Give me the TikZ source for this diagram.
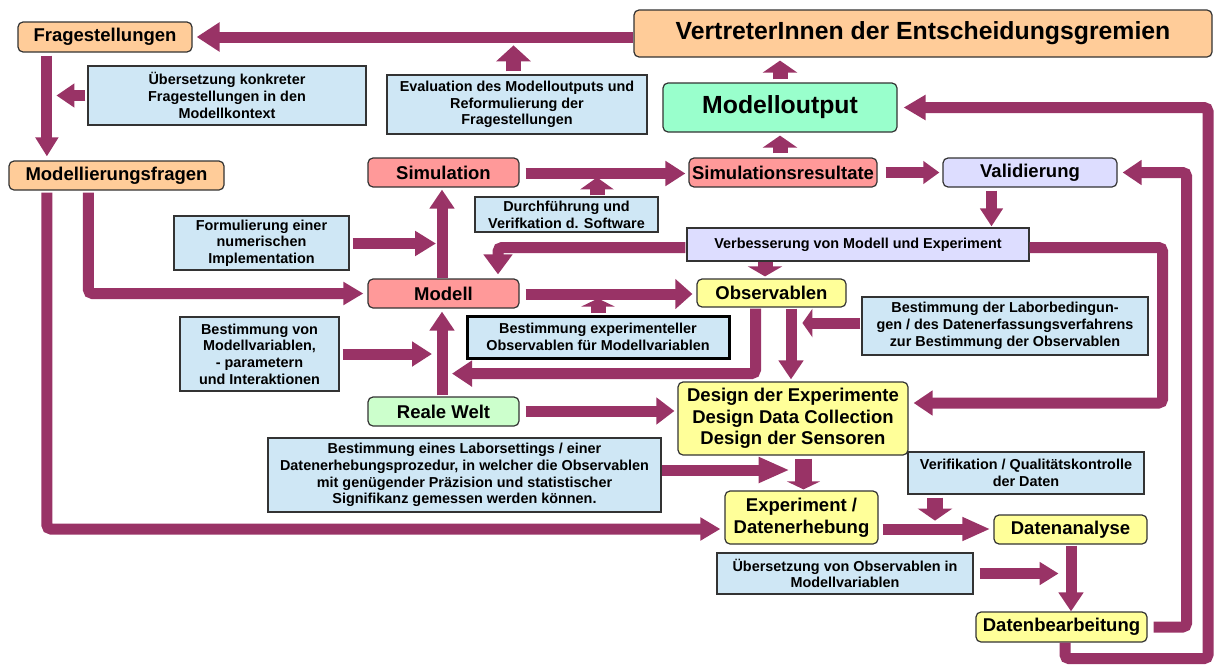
\documentclass[tikz,border=0pt]{standalone}
\usepackage{fontspec}
\setmainfont{Liberation Sans}
\usetikzlibrary{arrows.meta,calc}

\definecolor{flowc}{RGB}{153,51,102}
\definecolor{orangebox}{RGB}{255,204,153}
\definecolor{bluebox}{RGB}{207,231,245}
\definecolor{redbox}{RGB}{255,153,153}
\definecolor{greenbox}{RGB}{204,255,204}
\definecolor{mintbox}{RGB}{153,255,204}
\definecolor{yellowbox}{RGB}{255,255,153}
\definecolor{lilacbox}{RGB}{221,221,255}
\definecolor{edgec}{RGB}{51,51,51}

\tikzset{
  box/.style={draw=edgec, line width=1.2pt, inner sep=0pt, align=center,
    font=\bfseries\fontsize{18.5}{21.5}\selectfont},
  rbox/.style={box, rounded corners=5pt},
  bigtext/.style={font=\bfseries\fontsize{24.8}{28}\selectfont},
  note/.style={box, fill=bluebox, font=\bfseries\fontsize{14.4}{16.7}\selectfont},
  sz/.style 2 args={minimum width=#1pt, minimum height=#2pt},
  tip/.style 2 args={-{Triangle[width=#1pt,length=#2pt]}},
  flow/.style={draw=flowc, line width=11pt, rounded corners=4pt, tip={24}{19}},
  fat/.style={draw=flowc, line width=15pt, tip={34}{12}},
}

\begin{document}
\begin{tikzpicture}[x=1pt, y=-1pt]
\useasboundingbox (0,0) rectangle (1215,664);

% ---------- boxes ----------
\node[rbox, fill=orangebox, sz={174}{30}] (frage) at (105,37) {Fragestellungen};
\node[rbox, fill=orangebox, sz={578}{47}, bigtext] (vertreter) at (923,33.5) {VertreterInnen der Entscheidungsgremien};
\node[rbox, fill=orangebox, sz={215}{29}] (modfrag) at (116.5,175.5) {Modellierungsfragen};
\node[note, sz={278}{59}] (uebkonk) at (227,95.5) {Übersetzung konkreter\\Fragestellungen in den\\Modellkontext};
\node[note, sz={260}{59}] (eval) at (517,104.5) {Evaluation des Modelloutputs und\\Reformulierung der\\Fragestellungen};
\node[rbox, fill=mintbox, sz={234}{49}, bigtext] (output) at (780,107.5) {Modelloutput};
\node[rbox, fill=redbox, sz={151}{29}] (simul) at (443.5,172.5) {Simulation};
\node[rbox, fill=redbox, sz={188}{29}] (simres) at (783,172.5) {Simulationsresultate};
\node[rbox, fill=lilacbox, sz={174}{29}] (valid) at (1030,172.5) {Validierung};
\node[note, sz={183}{35}] (durch) at (566.5,214.5) {Durchführung und\\Verifkation d. Software};
\node[note, sz={175}{54}] (formul) at (261.5,243) {Formulierung einer\\numerischen\\Implementation};
\node[note, fill=lilacbox, sz={342}{33}] (verbes) at (858,244.5) {Verbesserung von Modell und Experiment};
\node[rbox, fill=redbox, sz={151}{29}] (modell) at (443.5,293.5) {Modell};
\node[rbox, fill=yellowbox, sz={149}{28}] (observ) at (771.5,293) {Observablen};
\node[note, sz={159}{74}] (bestvar) at (259.5,354) {Bestimmung von\\Modellvariablen,\\- parametern\\und Interaktionen};
\node[note, draw=black, line width=3pt, sz={262}{42}] (bestexp) at (598,337) {Bestimmung experimenteller\\Observablen für Modellvariablen};
\node[note, sz={286}{58}] (labor) at (1005,326) {Bestimmung der Laborbedingun-\\gen / des Datenerfassungsverfahrens\\zur Bestimmung der Observablen};
\node[rbox, fill=greenbox, sz={151}{29}] (reale) at (443.5,411.5) {Reale Welt};
\node[rbox, fill=yellowbox, sz={230}{73}] (design) at (793,418.5) {Design der Experimente\\Design Data Collection\\Design der Sensoren};
\node[note, sz={393}{74}] (setting) at (464.5,475) {Bestimmung eines Laborsettings / einer\\Datenerhebungsprozedur, in welcher die Observablen\\mit genügender Präzision und statistischer\\Signifikanz gemessen werden können.};
\node[note, sz={236}{42}] (verif) at (1026,473) {Verifikation / Qualitätskontrolle\\der Daten};
\node[rbox, fill=yellowbox, sz={153}{53}] (experi) at (801.5,517.5) {Experiment /\\Datenerhebung};
\node[rbox, fill=yellowbox, sz={153}{29}] (analyse) at (1070.5,529.5) {Datenanalyse};
\node[note, sz={256}{41}] (uebobs) at (845,573.5) {Übersetzung von Observablen in\\Modellvariablen};
\node[rbox, fill=yellowbox, sz={171}{30}] (bearb) at (1061.5,627) {Datenbearbeitung};

% ---------- connectors ----------
% top row
\draw[flow, tip={28}{23}] (vertreter.west |- frage.east) -- ([xshift=4pt]frage.east);
\draw[flow, tip={22}{19}] ($(frage.south west)+(29.5,3)$) -- ($(modfrag.north west)+(38.5,-4)$);
\draw[flow, tip={23}{18}] ($(uebkonk.west)+(-2,0)$) -- ($(uebkonk.west)+(-31,0)$);
\draw[fat, tip={34}{16}] ($(eval.north)+(-3.5,-3)$) -- ++(0,-26);
\draw[fat] ($(output.north)+(0,-3)$) -- ($(output.north |- vertreter.south)+(0,3)$);
\draw[fat] ($(output.south |- simres.north)+(0,-4)$) -- ($(output.south)+(0,3)$);

% simulation row
\draw[flow, tip={24}{20}] ($(simul.east)+(6,1)$) -- ($(simres.west)+(-3,1)$);
\draw[fat, tip={33}{12}] ($(durch.north)+(30.5,-1)$) -- ++(0,-18);
\draw[flow, tip={22}{16}] ($(simres.east)+(8,0)$) -- ($(valid.west)+(-3,0)$);
\draw[flow, tip={22}{18}] ($(valid.south)+(-38.5,3)$) -- ($(verbes.north -| valid.south)+(-38.5,-1)$);

% improvement loop
\draw[flow, tip={28}{20}] ($(verbes.west)+(-1,3)$) -| ($(modell.north)+(54.5,-4)$);
\draw[fat, tip={34}{10}] ($(verbes.south)+(-93,0)$) -- ($(observ.north)+(-6.5,-2)$);
\draw[flow] ($(verbes.east)+(0,3)$) -- ++(133,0) |- ($(design.east)+(5,-15.5)$);

% model row
\draw[flow, tip={22}{20}] ($(modfrag.south west)+(80,2)$) |- ($(modell.west)+(-4,0)$);
\draw[flow, tip={24}{21}] ($(formul.east)+(3,0.5)$) -- ($(formul.east -| modell.north)+(-7.5,0.5)$);
\draw[flow, tip={24}{19}] ($(modell.north)+(-1.5,0)$) -- ($(simul.south)+(-1.5,2)$);
\draw[flow, tip={24}{19}] ($(reale.north)+(-1.5,-1)$) -- ($(modell.south)+(-1.5,3)$);
\draw[flow, tip={24}{20}] ($(bestvar.east)+(3,0)$) -- ($(bestvar.east -| modell.south)+(-11.5,0)$);
\draw[flow, tip={29}{17}] ($(modell.east)+(6,0.5)$) -- ($(observ.west)+(-4,1)$);
\draw[fat, tip={33}{8}] ($(bestexp.north)+(0,-2)$) -- ++(0,-14);
\draw[flow, tip={25}{20}] ($(observ.south)+(-16,1)$) |- ($(modell.south)+(8.5,65)$);
\draw[flow, tip={24}{19}] ($(observ.south)+(19.5,1)$) -- ($(design.north)+(-2,-2)$);
\draw[flow, tip={28}{10}] ($(labor.west)+(-1,-3)$) -- ++(-58,0);

% experiment row
\draw[flow, tip={26}{18}] ($(reale.east)+(6,-0.5)$) -- ($(reale.east -| design.west)+(-3,-0.5)$);
\draw[flow, tip={24}{31}] ($(setting.east)+(0,-5)$) -- ++(128,0);
\draw[flow, line width=17pt, tip={33}{8}] ($(design.south)+(10.5,3)$) -- ($(experi.north)+(2,-1)$);
\draw[flow, tip={22}{20}] ($(modfrag.south west)+(38.5,2)$) |- ($(experi.west)+(-4,11.5)$);
\draw[flow, tip={22}{28}] ($(experi.east)+(4,11.5)$) -- ($(analyse.west)+(-3,-0.5)$);
\draw[fat, line width=16pt, tip={34}{12}] ($(verif.south)+(-91,3)$) -- ++(0,23);
\draw[flow, tip={24}{19}] ($(analyse.south)+(0.5,1)$) -- ($(bearb.north)+(9.5,0)$);
\draw[flow, tip={22}{19}] ($(uebobs.east)+(6,0)$) -- ++(79,0);

% feedback loops on the right
\draw[flow, tip={24}{19}] ($(bearb.east)+(6,0)$) -- ++(33,0) |- ($(valid.east)+(5,0)$);
\draw[flow, tip={24}{22}] ($(bearb.south)+(3.5,0)$) -- ++(0,16) -- ++(143,0) |- ($(output.east)+(6,0)$);
\end{tikzpicture}
\end{document}
